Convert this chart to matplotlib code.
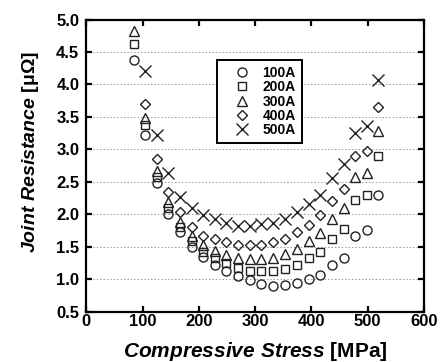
import numpy as np
import matplotlib
matplotlib.use("Agg")
import matplotlib.pyplot as plt

plt.rcParams['font.family'] = ['Liberation Sans', 'DejaVu Sans']
plt.rcParams['mathtext.fontset'] = 'custom'
plt.rcParams['mathtext.it'] = 'Liberation Sans:bold:italic'
plt.rcParams['mathtext.rm'] = 'Liberation Sans:bold'

# compressive stress [MPa]
stress = [84, 105, 126, 146, 166, 187, 208, 228, 249, 270, 291,
          311, 332, 353, 374, 395, 416, 436, 457, 478, 499, 519]

# joint resistance [uOhm] per current
r100 = [4.37, 3.22, 2.48, 2.00, 1.73, 1.50, 1.34, 1.22, 1.12, 1.04, 0.99,
        0.93, 0.90, 0.91, 0.94, 1.00, 1.07, 1.21, 1.32, 1.66, 1.75, 2.29]
r200 = [4.62, 3.37, 2.58, 2.09, 1.80, 1.58, 1.42, 1.32, 1.25, 1.17, 1.13,
        1.12, 1.13, 1.16, 1.22, 1.33, 1.42, 1.62, 1.77, 2.22, 2.29, 2.90]
r300 = [4.82, 3.48, 2.66, 2.18, 1.88, 1.66, 1.52, 1.43, 1.37, 1.33, 1.31,
        1.31, 1.33, 1.38, 1.46, 1.58, 1.71, 1.93, 2.10, 2.58, 2.64, 3.28]
r400 = [np.nan, 3.70, 2.85, 2.34, 2.03, 1.80, 1.67, 1.61, 1.57, 1.53, 1.52,
        1.52, 1.57, 1.62, 1.72, 1.84, 1.99, 2.21, 2.39, 2.90, 2.97, 3.65]
r500 = [np.nan, 4.20, 3.22, 2.64, 2.27, 2.10, 1.99, 1.92, 1.86, 1.81, 1.81,
        1.85, 1.87, 1.93, 2.03, 2.16, 2.30, 2.56, 2.77, 3.25, 3.36, 4.07]

labels = ['100A', '200A', '300A', '400A', '500A']
markers = ['o', 's', '^', 'D', 'x']
msizes = [6.5, 6, 6.5, 5.5, 8]
series = [r100, r200, r300, r400, r500]

W, H = 441, 362
fig = plt.figure(figsize=(W / 100, H / 100), dpi=100)
ax = fig.add_axes([86.3 / W, 1 - 311.5 / H, (424 - 86.3) / W, 292 / H])

col = '#222222'
for y, m, lab, ms in zip(series, markers, labels, msizes):
    ax.plot(stress, y, linestyle='none', marker=m, ms=ms, mfc='none',
            mec=col, mew=1.0, label=lab)

ax.set_xlim(0, 600)
ax.set_ylim(0.5, 5.0)
ax.set_xticks(np.arange(0, 601, 100))
ax.set_yticks(np.arange(0.5, 5.01, 0.5))
ax.yaxis.set_major_formatter(matplotlib.ticker.FormatStrFormatter('%.1f'))
ax.yaxis.grid(True, linestyle=(0, (1.5, 2)), color='#999999', linewidth=0.7)
ax.set_axisbelow(True)

for s in ax.spines.values():
    s.set_linewidth(1.6)
ax.tick_params(direction='in', length=4, width=1.6, top=True, right=True,
               labelsize=12)
ax.tick_params(axis='x', pad=1.5)
ax.tick_params(axis='y', pad=5)
for t in ax.get_xticklabels() + ax.get_yticklabels():
    t.set_fontweight('bold')

# axis titles placed in pixel terms
fig.text(255 / W, 1 - 357 / H, r'$\mathit{Compressive\ Stress}$ [MPa]',
         fontsize=15, fontweight='bold', ha='center', va='baseline')
fig.text(31 / W, 1 - 151.5 / H, r'$\mathit{Joint\ Resistance}$ [μΩ]',
         fontsize=14, fontweight='bold', ha='center', va='center',
         rotation=90)

leg = ax.legend(loc='upper left', bbox_to_anchor=(0.388, 0.862),
                borderaxespad=0, fancybox=False, framealpha=1,
                edgecolor='black', prop={'weight': 'bold', 'size': 10},
                handletextpad=0.1, labelspacing=0.02, handlelength=2.7,
                borderpad=0.45)
leg.get_frame().set_linewidth(1.4)

fig.savefig('out.png', dpi=100)
